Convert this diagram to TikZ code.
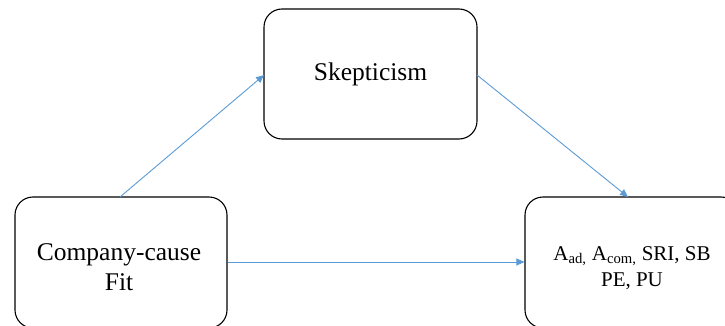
\documentclass[tikz,border=0pt]{standalone}
\usepackage{fontspec}
\setmainfont{Liberation Serif}
\usetikzlibrary{arrows.meta}
\definecolor{arrowblue}{HTML}{5B9BD5}
\tikzset{
  box/.style={draw=black, line width=1.1pt, rounded corners=18pt, inner sep=0pt},
  label/.style={align=center, inner sep=0pt},
  bigtext/.style={font=\fontsize{25.5}{30}\selectfont},
  smalltext/.style={font=\fontsize{21}{26}\selectfont},
  link/.style={draw=arrowblue, line width=0.9pt, -{Triangle[length=8pt,width=7pt]}}
}
\begin{document}
\begin{tikzpicture}[x=1pt,y=-1pt]
\useasboundingbox (0,0) rectangle (725,326);
\clip (0,0) rectangle (725,326);
\node[box, minimum width=213pt, minimum height=130pt] (sk) at (370.5,74) {};
\node[box, minimum width=212pt, minimum height=131pt] (fit) at (121,262.5) {};
\node[box, minimum width=214pt, minimum height=131pt] (out) at (632,262.5) {};
\node[label, bigtext] (skT) at (370.5,74) {Skepticism};
\node[label, bigtext] (fitT) at (119,267) {Company-cause\\Fit};
\node[label, smalltext] (outT) at (632,268) {A\textsubscript{ad,} A\textsubscript{com,} SRI, SB\\PE, PU};
\coordinate (fitTop) at (120,197);
\coordinate (skIn) at (264,75);
\coordinate (skOut) at (477,75);
\coordinate (outIn) at (628,197);
\draw[link] (fitTop) -- (skIn);
\draw[link] (skOut) -- (outIn);
\draw[link] (fit.east |- 0,262) -- (out.west |- 0,262);
\end{tikzpicture}
\end{document}
